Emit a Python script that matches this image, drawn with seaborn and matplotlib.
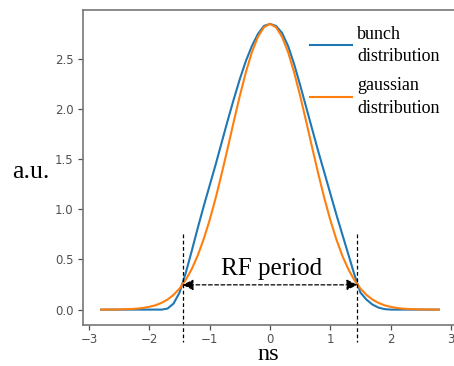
import pandas as pd
import matplotlib
matplotlib.use("Agg")
import matplotlib.pyplot as plt
import seaborn as sns

# values
ns = [-2.8, -2.7, -2.6, -2.5, -2.4, -2.3, -2.2, -2.1, -2.0, -1.9,
      -1.8, -1.7, -1.6, -1.5, -1.4, -1.3, -1.2, -1.1, -1.0, -0.9,
      -0.8, -0.7, -0.6, -0.5, -0.4, -0.3, -0.2, -0.1, 0.0, 0.1,
      0.2, 0.3, 0.4, 0.5, 0.6, 0.7, 0.8, 0.9, 1.0, 1.1,
      1.2, 1.3, 1.4, 1.5, 1.6, 1.7, 1.8, 1.9, 2.0, 2.1,
      2.2, 2.3, 2.4, 2.5, 2.6, 2.7, 2.8]

bunch = [0.0, 0.0, 0.0, 0.0, 0.0, 0.0, 0.0, 0.0, 0.0, 0.0,
         0.0, 0.01, 0.06, 0.17, 0.36, 0.58, 0.81, 1.03, 1.24, 1.45,
         1.67, 1.89, 2.10, 2.30, 2.48, 2.63, 2.75, 2.83, 2.85, 2.83,
         2.76, 2.63, 2.45, 2.24, 2.02, 1.80, 1.58, 1.37, 1.16, 0.95,
         0.75, 0.55, 0.35, 0.17, 0.10, 0.05, 0.02, 0.005, 0.0, 0.0,
         0.0, 0.0, 0.0, 0.0, 0.0, 0.0, 0.0]

gauss = [0.000, 0.001, 0.001, 0.002, 0.004, 0.006, 0.010, 0.017, 0.028, 0.043,
         0.067, 0.100, 0.147, 0.210, 0.294, 0.402, 0.537, 0.702, 0.895, 1.115,
         1.358, 1.615, 1.878, 2.133, 2.368, 2.568, 2.721, 2.817, 2.850, 2.817,
         2.721, 2.568, 2.368, 2.133, 1.878, 1.615, 1.358, 1.115, 0.895, 0.702,
         0.537, 0.402, 0.294, 0.210, 0.147, 0.100, 0.067, 0.043, 0.028, 0.017,
         0.010, 0.006, 0.004, 0.002, 0.001, 0.001, 0.000]

labels = ["bunch\ndistribution", "gaussian\ndistribution"]
rf_edges = [-1.45, 1.45]
rf_level = 0.247

df = pd.concat([
    pd.DataFrame({"ns": ns, "au": bunch, "kind": labels[0]}),
    pd.DataFrame({"ns": ns, "au": gauss, "kind": labels[1]}),
])

serif = "Liberation Serif"

fig = plt.figure(figsize=(4.54, 3.66), dpi=100)
ax = fig.add_axes([0.183, 0.113, 0.828, 0.86])

sns.lineplot(data=df, x="ns", y="au", hue="kind", palette=["#1f77b4", "#ff7f0e"],
             linewidth=1.5, legend=False, ax=ax)

# RF period markers
for xe in rf_edges:
    ax.plot([xe, xe], [0.75, -0.32], color="black", linestyle=(0, (3, 2)),
            linewidth=0.9, clip_on=False)
ax.annotate("", xy=(rf_edges[0], rf_level), xytext=(rf_edges[1], rf_level),
            arrowprops=dict(arrowstyle="<|-|>", color="black", linestyle=(0, (3, 2)),
                            linewidth=0.9, mutation_scale=16, shrinkA=0, shrinkB=0))
ax.text(0.02, 0.35, "RF period", family=serif, fontsize=18, ha="center", va="baseline")

ax.set_xlabel("")
ax.set_ylabel("")
ax.set_xticks([-3, -2, -1, 0, 1, 2, 3])
ax.set_xticklabels(["\u22123", "\u22122", "\u22121", "0", "1", "2", "3"])
ax.set_yticks([0.0, 0.5, 1.0, 1.5, 2.0, 2.5])
ax.set_xlim(-3.1, 3.135)
ax.set_ylim(-0.15, 2.99)
ax.tick_params(labelsize=8.5, colors="#505050", length=3.5, width=0.9)
ax.tick_params(axis="x", pad=2.5)
for sp in ax.spines.values():
    sp.set_color("#777777")
    sp.set_linewidth(1.2)

fig.text(0.067, 0.514, "a.u.", family=serif, fontsize=18.5, ha="center", va="baseline")
fig.text(0.592, 0.002, "ns", family=serif, fontsize=17.5, ha="center", va="bottom")

leg = ax.legend(handles=ax.lines[:2], labels=labels, loc="upper left",
                bbox_to_anchor=(0.683, 0.93), bbox_transform=fig.transFigure,
                frameon=False, prop={"family": serif, "size": 13},
                handlelength=2.3, handletextpad=0.3, borderpad=0, borderaxespad=0,
                labelspacing=0.7)
for t in leg.get_texts():
    t.set_linespacing(1.4)

fig.savefig("out.png", dpi=100)
